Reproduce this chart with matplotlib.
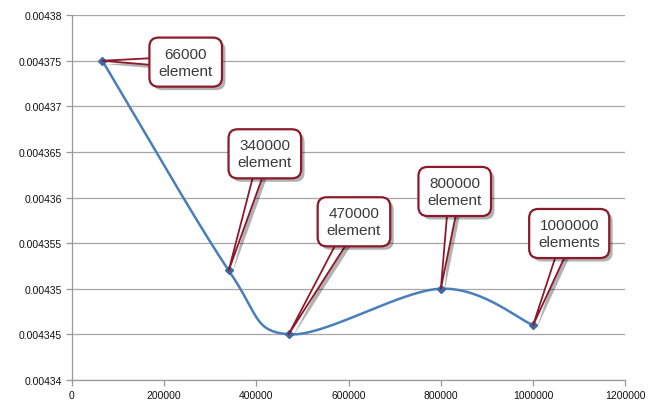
import numpy as np
import matplotlib
matplotlib.use("Agg")
import matplotlib.pyplot as plt
import matplotlib.patheffects as pe

# Mesh size vs. result
elements = [66000, 340000, 470000, 800000, 1000000]
values = [0.004375, 0.004352, 0.004345, 0.00435, 0.004346]
labels = ["66000\nelement", "340000\nelement", "470000\nelement",
          "800000\nelement", "1000000\nelements"]

x_ticks = [0, 200000, 400000, 600000, 800000, 1000000, 1200000]
y_ticks = [0.00434, 0.004345, 0.00435, 0.004355, 0.00436,
           0.004365, 0.00437, 0.004375, 0.00438]
y_tick_labels = ["0.00434", "0.004345", "0.00435", "0.004355", "0.00436",
                 "0.004365", "0.00437", "0.004375", "0.00438"]

# callout offsets (points) from each marker
callout_offsets = [(60, -1), (26, 84), (47, 81), (10, 70), (26, 66)]

X_RANGE = (0, 1200000)
Y_RANGE = (0.00434, 0.00438)
AX_RECT = [0.111, 0.080, 0.854, 0.881]
FIG_W, FIG_H = 6.48, 4.14


def smooth_curve(xs, ys, n=80):
    """Catmull-Rom smoothing through the points, computed in screen units."""
    xs = np.asarray(xs, float)
    ys = np.asarray(ys, float)
    # scale factors so that one unit equals one inch on the canvas
    sx = (X_RANGE[1] - X_RANGE[0]) / (AX_RECT[2] * FIG_W)
    sy = (Y_RANGE[1] - Y_RANGE[0]) / (AX_RECT[3] * FIG_H)
    P = np.column_stack([xs / sx, ys / sy])
    P = np.vstack([P[0], P, P[-1]])
    out = []
    for i in range(1, len(P) - 2):
        p0, p1, p2, p3 = P[i - 1], P[i], P[i + 1], P[i + 2]
        m1 = (p2 - p0) / 2.0
        m2 = (p3 - p1) / 2.0
        t = np.linspace(0, 1, n)[:, None]
        h00 = 2 * t**3 - 3 * t**2 + 1
        h10 = t**3 - 2 * t**2 + t
        h01 = -2 * t**3 + 3 * t**2
        h11 = t**3 - t**2
        seg = h00 * p1 + h10 * m1 + h01 * p2 + h11 * m2
        out.append(seg if i == 1 else seg[1:])
    C = np.vstack(out)
    return C[:, 0] * sx, C[:, 1] * sy


plt.rcParams['font.family'] = ['Liberation Sans', 'DejaVu Sans']
fig = plt.figure(figsize=(FIG_W, FIG_H), dpi=100)
ax = fig.add_axes(AX_RECT)

cx, cy = smooth_curve(elements, values)
ax.plot(cx, cy, color="#4a7ebb", lw=1.8, zorder=3, solid_capstyle="round")
ax.plot(elements, values, ls="none", marker="D", ms=4, color="#3d6aa6",
        zorder=4)

ax.set_xlim(*X_RANGE)
ax.set_ylim(*Y_RANGE)
ax.set_xticks(x_ticks)
ax.set_xticklabels([str(v) for v in x_ticks], fontsize=7.5, color="#111111")
ax.set_yticks(y_ticks)
ax.set_yticklabels(y_tick_labels, fontsize=7.5, color="#111111")
ax.yaxis.grid(True, color="#a6a6a6", lw=0.9)
ax.set_axisbelow(True)
for s in ("top", "right"):
    ax.spines[s].set_visible(False)
for s in ("left", "bottom"):
    ax.spines[s].set_color("#999999")
    ax.spines[s].set_linewidth(0.9)
ax.tick_params(axis="both", direction="out", length=4, width=0.9,
               color="#999999", pad=3)

shadow = [pe.SimplePatchShadow(offset=(2.5, -2.5), shadow_rgbFace="#000000",
                               alpha=0.3), pe.Normal()]
for x, y, lab, off in zip(elements, values, labels, callout_offsets):
    ann = ax.annotate(
        lab, xy=(x, y), xytext=off, textcoords="offset points",
        ha="center", va="center", fontsize=11, color="#3a3a3a",
        linespacing=1.25, zorder=6,
        bbox=dict(boxstyle="round,pad=0.6,rounding_size=0.6", fc="white",
                  ec="#8b1a2a", lw=1.6),
        arrowprops=dict(arrowstyle="wedge,tail_width=0.75,shrink_factor=0.5",
                        fc="white", ec="#8b1a2a", lw=1.3,
                        patchA=None, shrinkA=0, shrinkB=0),
    )
    ann.get_bbox_patch().set_path_effects(shadow)
    ann.arrow_patch.set_path_effects(shadow)

fig.savefig("out.png", dpi=100)
